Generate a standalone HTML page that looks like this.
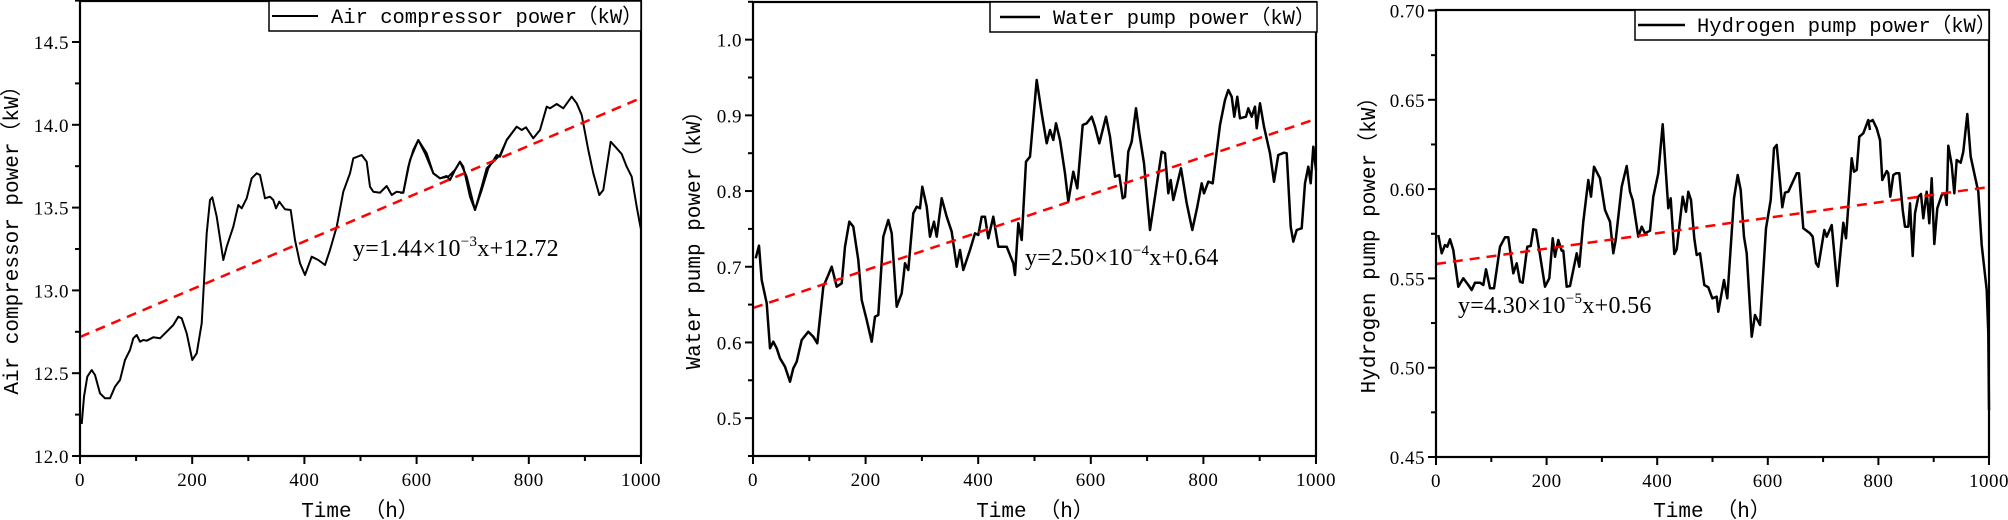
<!DOCTYPE html>
<html><head><meta charset="utf-8"><style>
html,body{margin:0;padding:0;background:#fff;}
svg{display:block;}
text{font-family:"Liberation Serif","Noto Serif CJK SC",serif;fill:#000;}
.tk{font-size:19px;letter-spacing:0.5px;}
.lg{font-family:"Liberation Mono","Noto Sans CJK SC",monospace;font-size:20.5px;}
.eq{font-size:24px;letter-spacing:0.3px;}
.ax{font-family:"Liberation Mono","Noto Sans CJK SC",monospace;font-size:21px;}
</style></head><body>
<svg id="s" width="2008" height="520" viewBox="0 0 2008 520" xmlns="http://www.w3.org/2000/svg">
<g id="g"></g>
<rect x="269" y="1" width="372" height="30" fill="#fff" stroke="#000" stroke-width="1.5"/>
<line x1="272" y1="16" x2="318" y2="16" stroke="#000" stroke-width="2"/>
<text class="lg" x="331" y="23">Air compressor power（kW）</text>
<rect x="990" y="2" width="327" height="30" fill="#fff" stroke="#000" stroke-width="1.5"/>
<line x1="1000" y1="17" x2="1040" y2="17" stroke="#000" stroke-width="2.5"/>
<text class="lg" x="1053" y="24">Water pump power（kW）</text>
<rect x="1635" y="10" width="354" height="30" fill="#fff" stroke="#000" stroke-width="1.5"/>
<line x1="1638" y1="25" x2="1685" y2="25" stroke="#000" stroke-width="2.5"/>
<text class="lg" x="1697" y="32">Hydrogen pump power（kW）</text>
<text class="eq" x="353" y="256">y=1.44×10<tspan font-size="15" dy="-10">−3</tspan><tspan dy="10">x+12.72</tspan></text>
<text class="eq" x="1025" y="265">y=2.50×10<tspan font-size="15" dy="-10">−4</tspan><tspan dy="10">x+0.64</tspan></text>
<text class="eq" x="1458" y="313">y=4.30×10<tspan font-size="15" dy="-10">−5</tspan><tspan dy="10">x+0.56</tspan></text>
<text class="ax" x="360" y="517" text-anchor="middle">Time （h）</text>
<text class="ax" x="1035" y="517" text-anchor="middle">Time （h）</text>
<text class="ax" x="1712" y="517" text-anchor="middle">Time （h）</text>
<text class="ax" transform="translate(18,235) rotate(-90)" text-anchor="middle">Air compressor power（kW）</text>
<text class="ax" transform="translate(700,235) rotate(-90)" text-anchor="middle">Water pump power（kW）</text>
<text class="ax" transform="translate(1375,240) rotate(-90)" text-anchor="middle">Hydrogen pump power（kW）</text>
<g id="labels"></g>
</svg>
<script>
var NS="http://www.w3.org/2000/svg",g=document.getElementById('g'),L=document.getElementById('labels');
function el(n,a,p){var e=document.createElementNS(NS,n);for(var k in a)e.setAttribute(k,a[k]);(p||g).appendChild(e);return e;}
function pts(arr,ox,sc){var s=[];for(var i=0;i<arr.length;i+=2)s.push((ox+arr[i]/sc).toFixed(1)+','+(arr[i+1]/sc).toFixed(1));return s.join(' ');}
function txt(x,y,t,anchor){var e=el('text',{x:x,y:y,'class':'tk','text-anchor':anchor},L);e.textContent=t;}
function panel(o){
 o.data.forEach(function(d){el('polyline',{points:pts(d[0],d[1],3),fill:'none',stroke:'#000','stroke-width':o.lw,'stroke-linejoin':'round'});});
 el('line',{x1:o.l,y1:o.t0,x2:o.r,y2:o.t1,stroke:'#f00','stroke-width':2.5,'stroke-dasharray':'10,7'});
 el('rect',{x:o.l,y:o.top,width:o.r-o.l,height:o.b-o.top,fill:'none',stroke:'#000','stroke-width':2.2});
 for(var i=0;i<=10;i++){var x=o.l+(o.r-o.l)*i/10;var maj=i%2==0;el('line',{x1:x,y1:o.b,x2:x,y2:o.b+(maj?8:5),stroke:'#000','stroke-width':2});
  if(maj)txt(x,o.b+30,String(i*100),'middle');}
 for(var v=0;v<o.yt.length;v++){var t=o.yt[v];var y=o.b-(t[0]-o.ymin)*o.ys;el('line',{x1:o.l,y1:y,x2:o.l-(t[1]?8:5),y2:y,stroke:'#000','stroke-width':2});
  if(t[1])txt(o.l-11,y+7,t[2],'end');}
}
function yt(min,max,step,dec){var r=[];var n=Math.round((max-min)/step);for(var i=0;i<=n;i++){var v=min+i*step;r.push([v,i%2==0,v.toFixed(dec)]);}return r;}
panel({l:80,r:641,top:1,b:456,ymin:12,ys:165.6,lw:2,t0:337,t1:98,yt:yt(12,14.75,0.25,1),
data:[[[245,1272,252,1190,262,1130,275,1110,285,1125,300,1180,315,1195,330,1195,345,1160,360,1140,375,1080,390,1050,400,1015,410,1005,420,1025,430,1020,440,1022,460,1012,480,1015,500,995,520,975,535,950,545,955,560,1000,577,1080,590,1060,605,970,620,700,630,600,637,592,650,650,670,780,680,740,700,680,715,615,725,625,740,595,755,535,770,520,780,525,795,595,810,590,820,600,828,625,838,605,855,628,872,630,885,720,900,790,915,825,935,770,955,780,975,795,990,750,1010,680,1030,575,1050,520,1060,475,1085,465,1100,485,1110,560,1120,575,1140,578,1160,558,1175,585,1190,575,1210,578,1230,480,1255,420,1280,460,1300,520,1320,535,1345,530,1365,510,1380,485,1400,530,1425,630,1445,570,1465,505,1490,465,1500,470,1520,420,1550,380],0],
[[0,578,10,578,25,500,40,450,55,420,75,460,100,520,120,535,140,528,150,540,165,510,180,485,190,500,210,590,225,630,245,560,260,505,280,485,300,465,320,420,350,380,365,390,378,382,400,415,420,390,440,320,450,325,470,312,490,325,515,290,530,310,545,345,565,450,580,520,598,585,610,570,632,425,650,445,665,462,680,500,695,530,710,620,722,685],400]]});
panel({l:753,r:1316,top:2,b:456,ymin:0.45,ys:757,lw:2.5,t0:308,t1:119,yt:yt(0.45,1.05,0.05,1).map(function(t,i){return [t[0],i%2==1,t[2]];}),
data:[[[287,775,297,737,305,840,320,910,330,1045,340,1025,350,1045,360,1075,375,1100,390,1145,400,1105,410,1085,425,1020,445,995,460,1010,472,1030,490,860,505,825,515,800,530,860,545,850,555,740,568,665,580,680,595,780,605,900,620,960,635,1025,645,950,655,945,670,710,685,660,695,700,710,920,725,880,735,790,745,810,760,640,770,620,780,625,787,560,800,620,810,710,822,665,830,710,845,595,860,650,875,695,890,800,900,750,910,810,930,750,945,700,955,705,965,650,975,650,985,715,1000,650,1015,740,1040,740,1060,790,1065,825,1075,670,1085,720,1098,485,1110,470,1130,240,1145,340,1160,430,1170,390,1180,420,1188,370,1200,420],660],
[[180,420,195,520,205,605,220,515,232,565,248,375,260,370,275,350,285,380,298,430,318,350,330,410,345,530,358,525,368,595,375,590,385,455,395,425,408,325,418,400,432,490,450,690,468,570,485,455,495,460,505,580,512,540,520,600,543,505,560,610,577,690,592,620,605,550,612,580,625,545,638,550,660,375,675,300,685,270,695,290,703,350,712,290,720,355,738,350,745,325,755,350,765,320,770,385,780,310,792,380,810,460,822,545,835,465,852,458,860,460,872,680,880,725,890,690,905,685,915,550,925,500,932,550,940,440,948,510],1000]]});
panel({l:1436,r:1989,top:10,b:457,ymin:0.45,ys:1786,lw:2.5,t0:264,t1:187,yt:yt(0.45,0.70,0.025,2),
data:[[[25,705,35,760,45,735,52,740,60,718,70,750,85,860,100,835,115,855,125,870,135,848,150,848,160,855,168,808,180,865,192,865,210,740,225,712,235,712,250,820,260,790,270,845,278,848,292,740,302,738,310,688,318,690,330,765,345,860,358,835,368,715,375,770,385,720,395,752,400,752,410,860,420,858,440,760,448,800,460,665,475,540,483,590,492,500,510,535,525,630,540,665,550,760,557,720,575,560,590,498,600,575,608,600,625,710,635,680,645,700,660,692,670,590,685,520,698,373,715,625,722,595,733,762,740,748,758,590,768,635,775,575,783,600,793,715,800,765,810,760,823,855,835,862,847,895,860,890,865,935,882,840,892,895,912,595,923,525,932,570,942,710,950,760,965,1010,975,945,990,975,1008,685,1022,600,1032,445,1040,435,1057,622,1065,578,1075,575,1100,520,1107,520,1120,685,1140,700,1148,710,1158,790,1165,800,1183,690,1190,710,1205,675,1222,858,1240,668,1248,715,1265,475,1272,515,1280,510,1288,410,1300,400,1315,360,1320,390],1430],
[[60,365,68,360,80,385,90,420,97,540,110,513,115,520,121,590,130,525,138,520,148,520,158,630,165,680,175,680,180,610,188,768,195,640,205,590,213,582,220,655,230,575,238,670,245,535,253,732,262,625,275,585,285,580,290,615,295,437,305,495,313,580,320,480,332,488,340,455,352,342,362,470,375,530,385,575,395,735,410,870,415,1000,417,1230],1850]]});
</script>
</body></html>
